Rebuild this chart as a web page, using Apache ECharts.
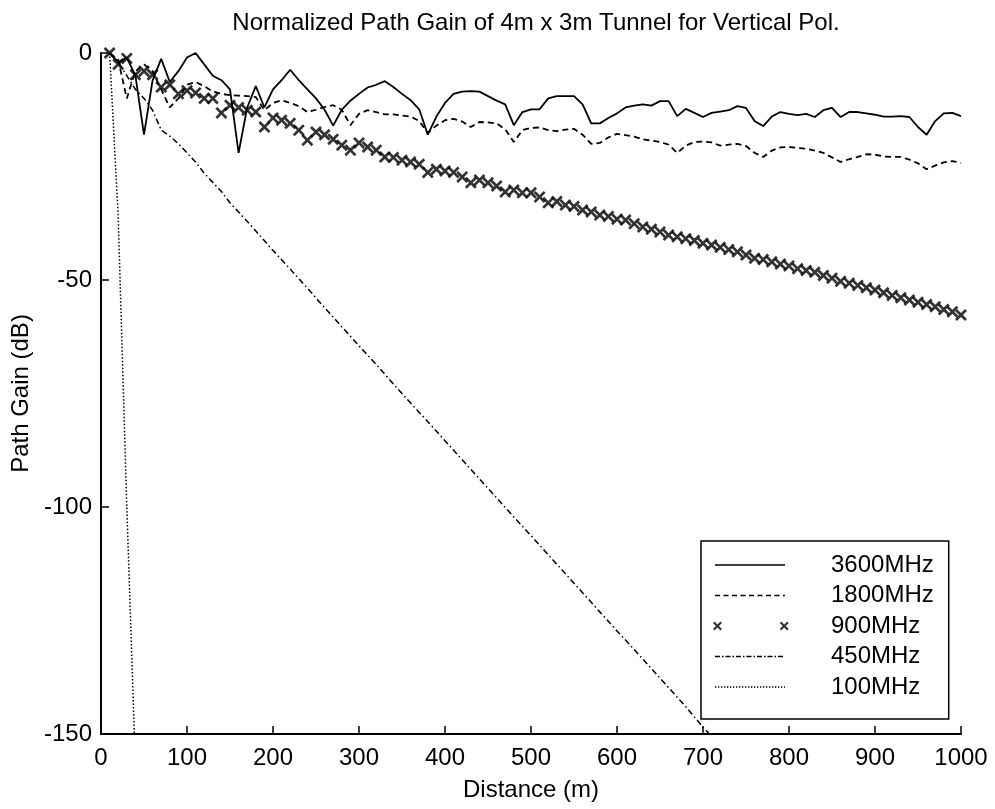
<!DOCTYPE html>
<html><head><meta charset="utf-8">
<script src="https://cdn.jsdelivr.net/npm/echarts@6/dist/echarts.min.js"></script>
<style>html,body{margin:0;padding:0;background:#fff}#c{width:995px;height:809px}</style>
</head><body><div id="c"></div>
<script>
const distance = [10,20,30,40,50,60,70,80,90,100,110,120,130,140,150,160,170,180,190,200,
 210,220,230,240,250,260,270,280,290,300,310,320,330,340,350,360,370,380,390,400,
 410,420,430,440,450,460,470,480,490,500,510,520,530,540,550,560,570,580,590,600,
 610,620,630,640,650,660,670,680,690,700,710,720,730,740,750,760,770,780,790,800,
 810,820,830,840,850,860,870,880,890,900,910,920,930,940,950,960,970,980,990,1000];
const gain3600 = [0,-2,-1,-5,-18,-6,-1.3,-6.4,-4,-1,
 0,-2.5,-5,-6,-8,-22,-12,-7.3,-12,-8,
 -6,-3.7,-6,-8,-10,-12.5,-16,-12.5,-10.5,-9,
 -7.6,-7,-6.2,-7.5,-9,-10.4,-12.4,-18,-14,-11,
 -9,-8.5,-8.4,-8.5,-9.5,-10.5,-11.3,-15.9,-13,-12.4,
 -12.4,-10,-9.5,-9.5,-9.5,-11.3,-15.5,-15.5,-14.3,-13.3,
 -12,-11.6,-11.3,-11.6,-10.6,-10.6,-13.9,-12.3,-13.2,-14.1,
 -13.2,-12.9,-12.6,-11.7,-12.1,-15,-16.1,-14,-13,-13.4,
 -13.7,-13.4,-14.1,-12.6,-12.1,-14.1,-13,-13,-13.3,-13.6,
 -14,-14,-13.9,-14.1,-16.3,-18,-15,-13.3,-13.2,-13.9];
const gain1800 = [0,-1.5,-10,-4,-2.5,-4,-8,-12,-10,-7,
 -6.4,-7.3,-8.5,-9,-9.3,-9.4,-9.5,-9.7,-12.6,-11,
 -10.4,-11,-11.7,-13,-12.5,-11.9,-11.5,-12.5,-15.9,-13.4,
 -12.6,-13,-13.5,-13.5,-13.8,-14,-15,-17.6,-16,-14.8,
 -14.5,-15.1,-16.3,-15.2,-15.3,-15.5,-16.8,-19.6,-17,-16.5,
 -16.4,-17,-17.2,-16.9,-16.7,-18,-20,-19.8,-18.6,-17.8,
 -18.1,-18.4,-19,-19.3,-19.6,-20.2,-22,-20.4,-19.6,-19.5,
 -19.7,-20.4,-20.2,-20,-20.5,-22,-22.9,-21.5,-20.8,-20.7,
 -20.9,-21.1,-21.5,-22,-23,-24,-23.4,-22.9,-22.3,-22.4,
 -22.8,-22.9,-22.9,-23.5,-24.3,-25.6,-24.8,-24.1,-23.8,-24.2];
const gain900 = [0,-2.5,-1.2,-4.8,-4,-4.8,-7.5,-7,-9,-8.3,
 -8.8,-10,-10,-13.2,-11.5,-12,-12.6,-13,-16.3,-14.3,
 -14.8,-15.5,-17,-19.2,-17.4,-18,-19,-20.3,-21.4,-19.8,
 -20.7,-21.4,-22.9,-23,-23.6,-24,-24.5,-26.3,-25.6,-26,
 -26.3,-27.3,-28.6,-28,-28.6,-29.3,-30.6,-30.2,-30.8,-30.8,
 -31.7,-33,-32.7,-33.5,-33.8,-34.6,-35,-35.7,-36,-36.6,
 -36.8,-37.6,-38.3,-38.8,-39.4,-40.1,-40.5,-40.9,-41.3,-41.9,
 -42.3,-42.8,-43.3,-43.8,-44.5,-45.2,-45.5,-46,-46.5,-46.9,
 -47.5,-47.9,-48.3,-49,-49.6,-50.3,-50.7,-51.2,-51.7,-52.2,
 -52.8,-53.4,-53.9,-54.4,-54.9,-55.4,-55.9,-56.5,-57,-57.7];
const distance450 = [10,20,30,40,50,60,70,80,90,100,110,120,130,140,150,
 160,180,200,220,240,260,280,300,320,340,360,380,400,420,440,460,480,500,
 520,540,560,580,600,620,640,660,680,700,720];
const gain450 = [0,-2,-5,-8,-10,-12.6,-17,-18.3,-20,-22,-24,-26.5,-28.5,-30.5,-33,
 -35.0,-39.2,-43.5,-47.6,-51.8,-56.1,-60.3,-64.5,-68.6,-72.9,-77.1,-81.2,-85.4,-89.6,-93.8,-98.0,-102.2,-106.3,
 -110.5,-114.7,-118.9,-123.1,-127.3,-131.4,-135.6,-139.8,-144.0,-148.5,-152.5];
const distance100 = [10,20,30,40];
const gain100 = [0,-36,-100,-157];
const seriesNames = ['3600MHz','1800MHz','900MHz','450MHz','100MHz'];
const xTicks = {min:0, max:1000, interval:100};
const yTicks = {min:-150, max:0, interval:50};

const FONT = 'Liberation Sans, Arial, Helvetica, sans-serif';
const pairs = (xs, ys) => xs.map((x, i) => [x, ys[i]]);

// legend icon path helpers (style only)
const IW = 113;
const CORNERS = 'M0,0L0.01,0L0.01,0.01Z M' + IW + ',10L' + (IW - 0.01) + ',10L' + (IW - 0.01) + ',9.99Z';
function dashIcon(pattern) {
  let p = 'path://' + CORNERS;
  const x0 = 2, x1 = 72, t0 = 4.2, t1 = 5.8;
  if (!pattern) {
    p += ` M${x0},${t0}L${x1},${t0}L${x1},${t1}L${x0},${t1}Z`;
    return p;
  }
  let x = x0, k = 0;
  while (x < x1) {
    const len = pattern[k % pattern.length];
    if (k % 2 === 0) {
      const e = Math.min(x + len, x1);
      p += ` M${x},${t0}L${e},${t0}L${e},${t1}L${x},${t1}Z`;
    }
    x += len; k++;
  }
  return p;
}
function xMark(cx, cy, s, w) {
  const h = s / 2;
  return ` M${cx-h},${cy-h+w}L${cx-h+w},${cy-h}L${cx},${cy-w}L${cx+h-w},${cy-h}L${cx+h},${cy-h+w}L${cx+w},${cy}L${cx+h},${cy+h-w}L${cx+h-w},${cy+h}L${cx},${cy+w}L${cx-h+w},${cy+h}L${cx-h},${cy+h-w}L${cx-w},${cy}Z`;
}
const xIcon = 'path://' + CORNERS + xMark(4, 5, 9, 1.5) + xMark(71, 5, 9, 1.5);
const xSymbol = 'path://' + xMark(5, 5, 10, 1.6).trim();

const chart = echarts.init(document.getElementById('c'), null, {renderer: 'canvas'});
chart.setOption({
  animation: false,
  backgroundColor: '#fff',
  textStyle: {fontFamily: FONT, color: '#000'},
  title: {
    text: 'Normalized Path Gain of 4m x 3m Tunnel for Vertical Pol.',
    left: 531, top: 6, textAlign: 'center',
    textStyle: {fontSize: 24, fontWeight: 'normal', color: '#000', fontFamily: FONT}
  },
  grid: {left: 101, right: 34, top: 53, bottom: 75, containLabel: false},
  xAxis: {
    type: 'value', min: xTicks.min, max: xTicks.max, interval: xTicks.interval,
    name: 'Distance (m)', nameLocation: 'middle', nameGap: 44,
    nameTextStyle: {fontSize: 24, color: '#000', fontFamily: FONT},
    axisLine: {onZero: false, lineStyle: {color: '#000', width: 2}},
    axisTick: {inside: true, length: 8, lineStyle: {color: '#000', width: 1.5}},
    axisLabel: {fontSize: 24, color: '#000', margin: 12, fontFamily: FONT, formatter: v => String(v)},
    splitLine: {show: false}
  },
  yAxis: {
    type: 'value', min: yTicks.min, max: yTicks.max, interval: yTicks.interval,
    name: 'Path Gain (dB)', nameLocation: 'middle', nameGap: 67, nameRotate: 90,
    nameTextStyle: {fontSize: 24, color: '#000', fontFamily: FONT},
    axisLine: {show: true, onZero: false, lineStyle: {color: '#000', width: 2}},
    axisTick: {show: true, inside: true, length: 8, lineStyle: {color: '#000', width: 1.5}},
    axisLabel: {fontSize: 24, color: '#000', margin: 9, fontFamily: FONT, formatter: v => String(v)},
    splitLine: {show: false}
  },
  legend: {
    orient: 'vertical', left: 701, top: 541,
    itemWidth: IW, itemHeight: 10, itemGap: 6.5,
    padding: [12, 15, 20, 12],
    borderColor: '#000', borderWidth: 1.5, backgroundColor: '#fff',
    selectedMode: false,
    textStyle: {fontSize: 24, color: '#000', lineHeight: 24, fontFamily: FONT},
    itemStyle: {borderWidth: 0, color: '#000'},
    data: [
      {name: seriesNames[0], icon: dashIcon(null)},
      {name: seriesNames[1], icon: dashIcon([5, 3.5])},
      {name: seriesNames[2], icon: xIcon},
      {name: seriesNames[3], icon: dashIcon([5, 2, 1.5, 2])},
      {name: seriesNames[4], icon: dashIcon([1.3, 1.7])}
    ]
  },
  series: [
    {name: seriesNames[0], type: 'line', data: pairs(distance, gain3600), symbol: 'none',
     color: '#000', lineStyle: {color: '#000', width: 1.8, type: 'solid'}, z: 5},
    {name: seriesNames[1], type: 'line', data: pairs(distance, gain1800), symbol: 'none',
     color: '#000', lineStyle: {color: '#000', width: 1.8, type: [6, 4]}, z: 4},
    {name: seriesNames[2], type: 'scatter', data: pairs(distance, gain900), symbol: xSymbol,
     symbolSize: 12, color: '#000', itemStyle: {color: '#000'}, z: 3},
    {name: seriesNames[3], type: 'line', data: pairs(distance450, gain450), symbol: 'none',
     color: '#000', lineStyle: {color: '#000', width: 1.5, type: [6, 3, 1.5, 3]}, z: 2},
    {name: seriesNames[4], type: 'line', data: pairs(distance100, gain100), symbol: 'none',
     color: '#000', lineStyle: {color: '#000', width: 1.5, type: [1.5, 2]}, z: 2}
  ]
});
</script></body></html>
